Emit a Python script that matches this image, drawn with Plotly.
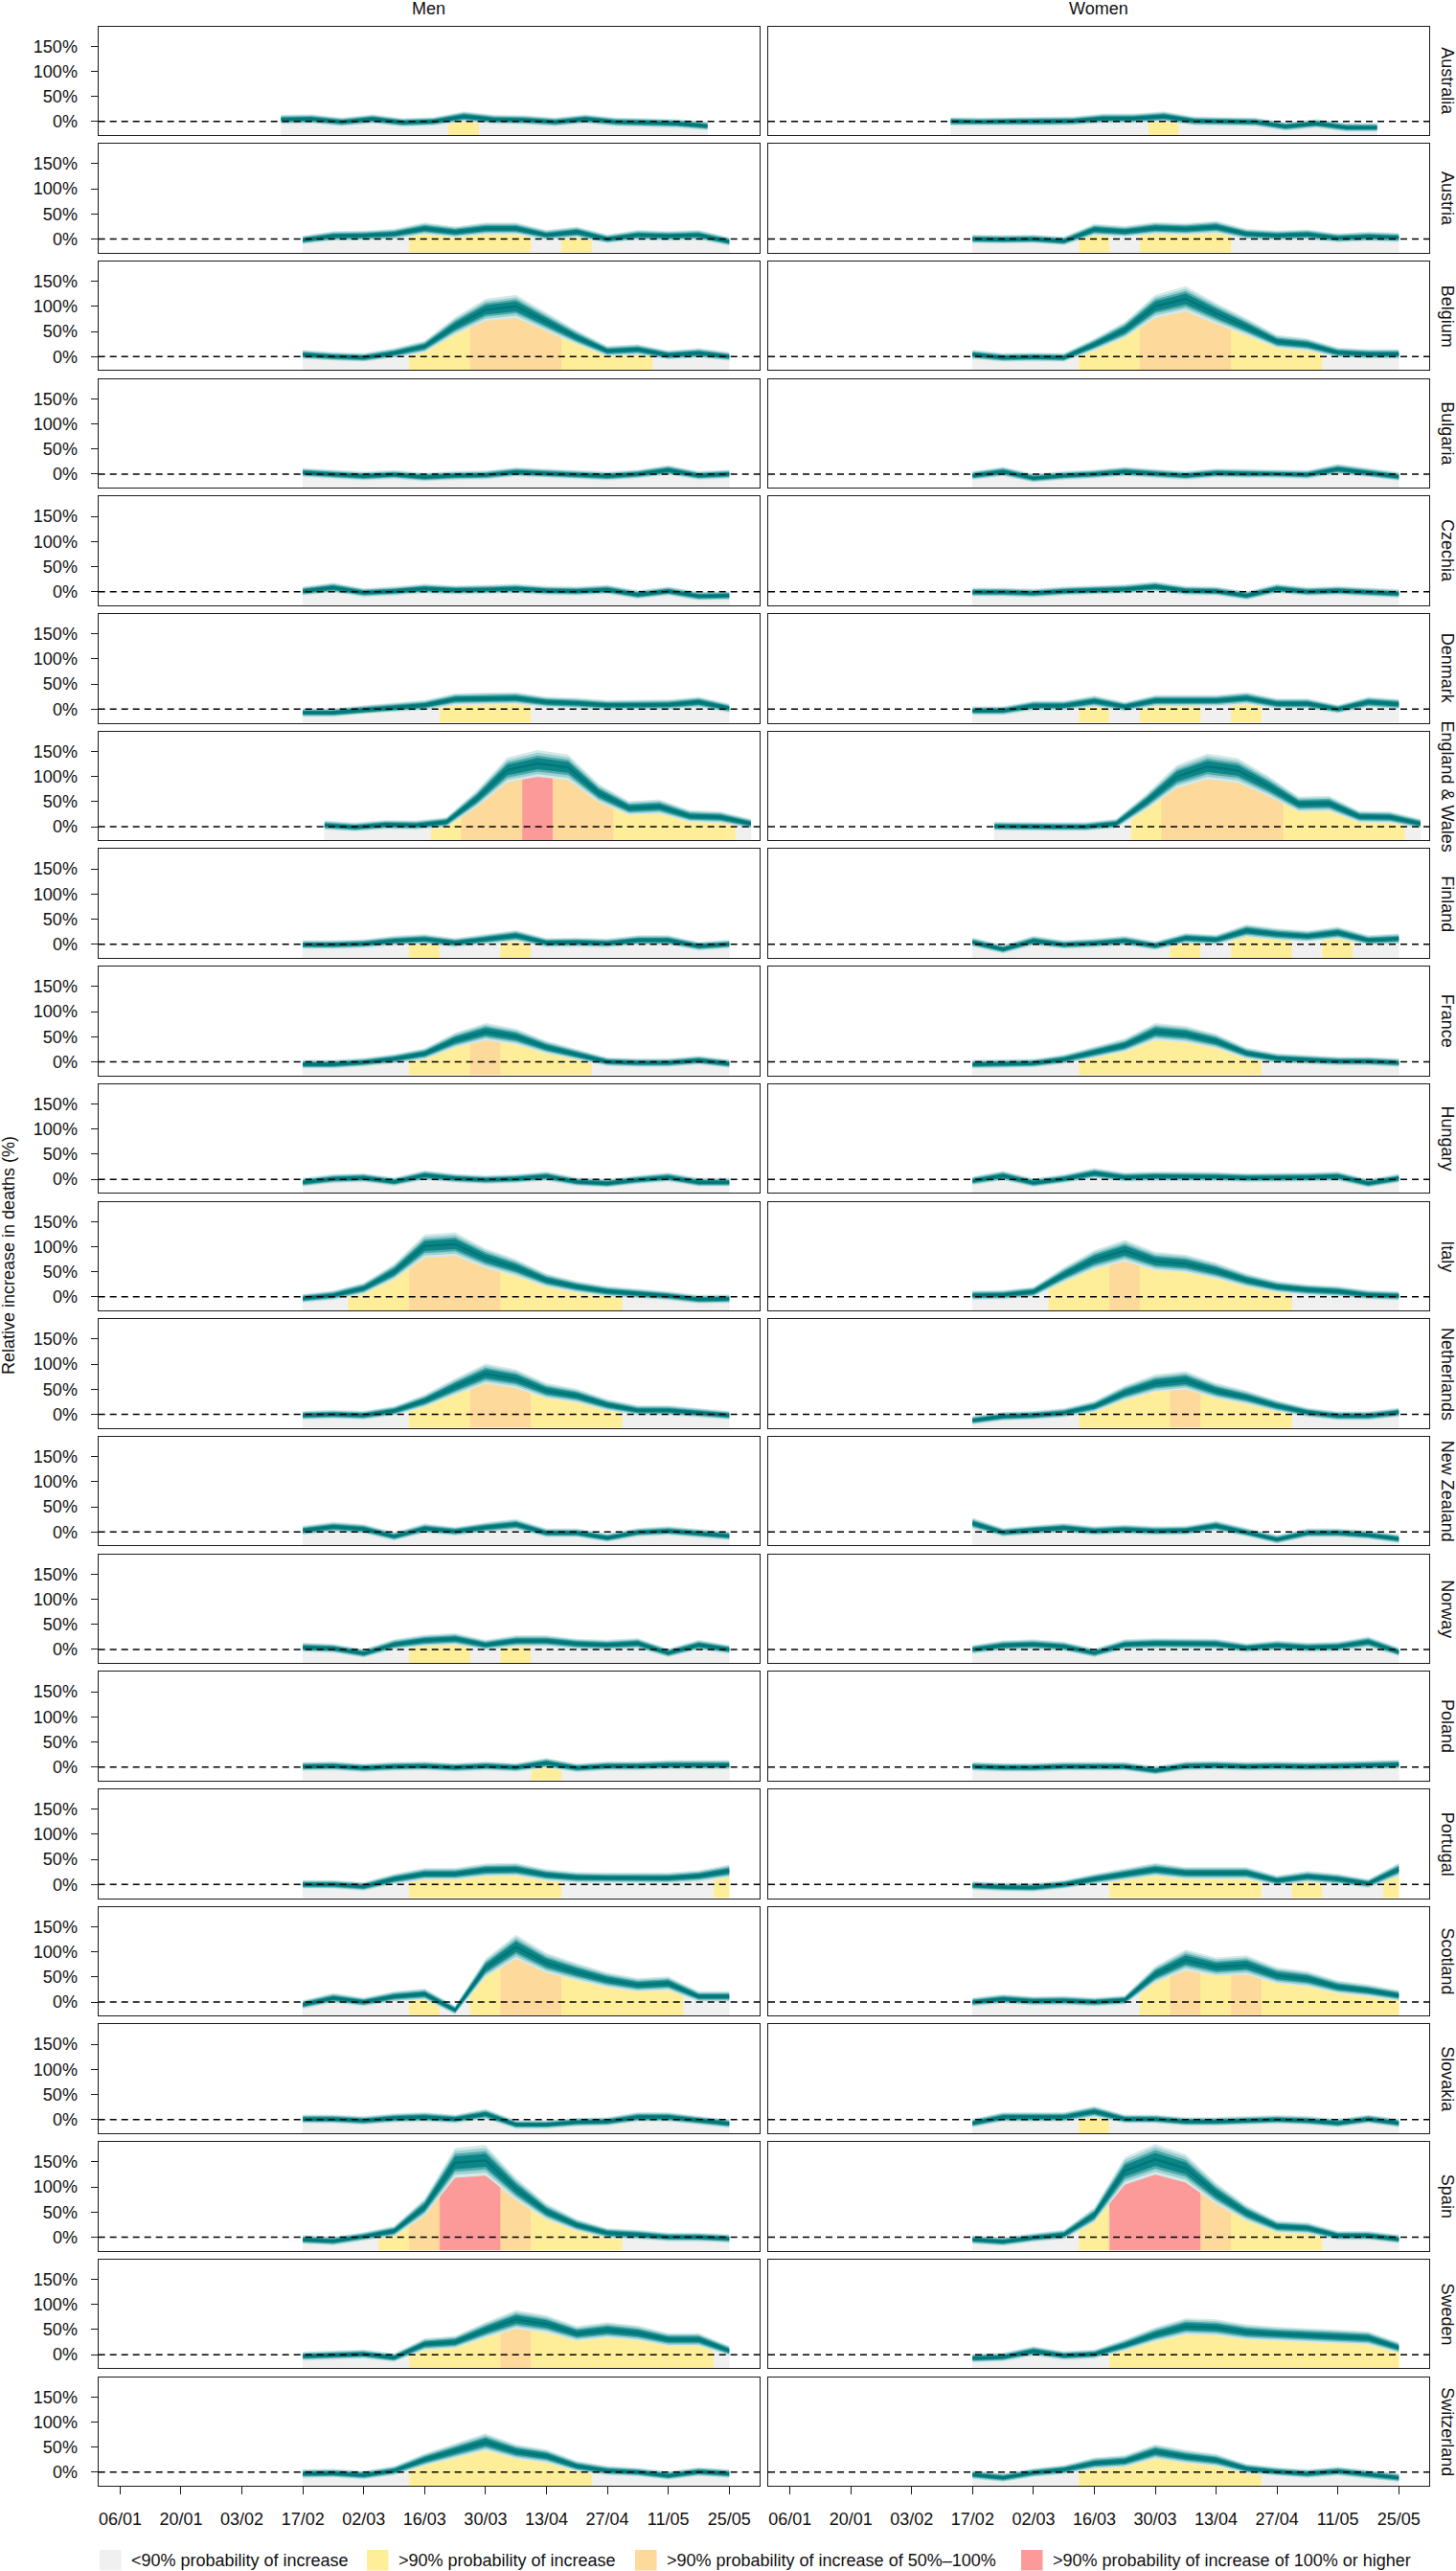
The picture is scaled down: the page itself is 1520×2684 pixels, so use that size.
import plotly.graph_objects as go
import pandas as pd

# ---------------- data ----------------
COUNTRIES = ["Australia", "Austria", "Belgium", "Bulgaria", "Czechia", "Denmark",
             "England & Wales", "Finland", "France", "Hungary", "Italy", "Netherlands",
             "New Zealand", "Norway", "Poland", "Portugal", "Scotland", "Slovakia",
             "Spain", "Sweden", "Switzerland"]

# first week (date of first weekly estimate); 15 weekly points per series
WEEK_START = {"Australia": "2020-02-12", "England & Wales": "2020-02-22"}
DEFAULT_START = "2020-02-17"
N_WEEKS = 15

# relative increase in deaths (%), posterior median, weekly
MEN = {
    "Australia":       [4, 5, -1, 5, -2, 0, 10, 4, 3, -1, 5, -1, -2, -4, -9],
    "Austria":         [-2, 6, 7, 10, 21, 14, 21, 21, 8, 14, 0, 8, 6, 8, -5],
    "Belgium":         [4, 0, -2, 7, 20, 61, 93, 100, 69, 38, 11, 14, 3, 7, 0],
    "Bulgaria":        [3, -1, -4, -1, -6, -3, -2, 4, 1, -1, -4, 0, 8, -3, 0],
    "Czechia":         [1, 8, -2, 1, 6, 3, 4, 6, 2, 1, 4, -6, 1, -9, -8],
    "Denmark":         [-7, -7, -1, 3, 8, 20, 21, 22, 14, 12, 8, 9, 9, 14, 2],
    "England & Wales": [3, -1, 4, 3, 9, 56, 113, 126, 118, 67, 37, 40, 21, 19, 6],
    "Finland":         [-1, -1, 1, 7, 10, 3, 10, 17, 3, 4, 2, 8, 8, -4, 0],
    "France":          [-5, -5, -1, 6, 16, 43, 60, 50, 29, 14, 0, -2, -2, 3, -4],
    "Hungary":         [-6, 1, 3, -5, 8, 2, -1, 1, 6, -5, -8, -1, 4, -6, -6],
    "Italy":           [-3, 3, 17, 50, 101, 105, 77, 58, 33, 20, 11, 7, 2, -5, -4],
    "Netherlands":     [-2, 0, -2, 7, 27, 55, 81, 71, 47, 37, 19, 8, 8, 3, -2],
    "New Zealand":     [3, 10, 6, -9, 7, 1, 9, 15, -2, -2, -12, -1, 2, -3, -8],
    "Norway":          [4, 2, -8, 10, 18, 21, 9, 17, 17, 11, 9, 12, -7, 9, 0],
    "Poland":          [1, 2, -2, 1, 2, -1, 2, -1, 8, -2, 2, 2, 4, 4, 4],
    "Portugal":        [0, 0, -4, 11, 21, 21, 29, 30, 19, 14, 13, 13, 13, 17, 27],
    "Scotland":        [-5, 8, 0, 11, 16, -16, 68, 110, 78, 60, 44, 34, 37, 11, 11],
    "Slovakia":        [1, 1, -2, 3, 5, 1, 11, -10, -10, -5, -4, 5, 5, -2, -8],
    "Spain":           [-5, -8, 1, 12, 60, 148, 153, 96, 51, 24, 8, 5, 0, 0, -3],
    "Sweden":          [-3, -1, 1, -6, 21, 25, 49, 70, 61, 42, 49, 43, 30, 30, 8],
    "Switzerland":     [-3, -2, -6, 3, 25, 43, 60, 41, 32, 12, 3, 0, -7, 1, -3],
}
WOMEN = {
    "Australia":       [0, -1, 0, 0, 1, 6, 6, 10, 1, 0, -1, -10, -4, -12, -12],
    "Austria":         [0, -1, 0, -4, 19, 15, 22, 20, 24, 10, 7, 9, 2, 5, 3],
    "Belgium":         [4, -2, -1, -2, 24, 53, 100, 115, 86, 59, 30, 24, 8, 5, 5],
    "Bulgaria":        [-3, 5, -8, -3, 0, 5, 1, -3, 2, 1, 1, -1, 10, 3, -5],
    "Czechia":         [-1, -1, -3, 1, 3, 5, 10, 2, 1, -8, 6, 0, 2, -1, -4],
    "Denmark":         [-3, -3, 7, 7, 16, 5, 17, 17, 17, 22, 11, 11, 0, 14, 10],
    "England & Wales": [1, 0, 0, 0, 6, 50, 100, 120, 112, 81, 45, 46, 20, 19, 6],
    "Finland":         [4, -10, 7, -1, 2, 7, -3, 12, 9, 27, 20, 16, 23, 8, 11],
    "France":          [-5, -4, -3, 5, 19, 33, 60, 55, 41, 17, 7, 4, 1, 1, -2],
    "Hungary":         [-3, 7, -7, 1, 12, 4, 6, 6, 5, 3, 3, 4, 6, -8, 2],
    "Italy":           [3, 4, 10, 44, 74, 92, 71, 66, 52, 33, 20, 14, 11, 4, 2],
    "Netherlands":     [-12, -4, -2, 3, 16, 43, 62, 68, 47, 34, 17, 4, -3, -3, 4],
    "New Zealand":     [17, -1, 4, 8, 2, 5, 2, 3, 12, -1, -15, -2, -2, -6, -14],
    "Norway":          [0, 8, 10, 6, -7, 10, 12, 11, 11, 3, 8, 4, 6, 15, -5],
    "Poland":          [1, -1, -1, 1, 1, 1, -7, 2, 3, 1, 2, 1, 2, 3, 5],
    "Portugal":        [-2, -5, -6, 0, 11, 21, 30, 23, 23, 23, 8, 16, 11, 2, 30],
    "Scotland":        [0, 6, 2, 3, 0, 4, 55, 84, 70, 74, 53, 46, 30, 23, 13],
    "Slovakia":        [-7, 5, 5, 5, 16, 1, 1, -4, -4, -2, 0, -2, -7, 1, -7],
    "Spain":           [-5, -9, -1, 5, 44, 132, 155, 137, 87, 48, 21, 18, 3, 3, -4],
    "Sweden":          [-7, -5, 7, -2, 1, 19, 40, 56, 54, 45, 41, 39, 36, 33, 14],
    "Switzerland":     [-5, -11, -1, 5, 18, 22, 41, 31, 24, 7, 1, -3, 2, -4, -11],
}

# probability class per week: 0 <90% increase, 1 >90% increase,
# 2 >90% increase of 50-100%, 3 >90% increase of 100% or higher
MEN_CLASS = {
    "Australia": "000000100000000", "Austria": "000011110100000",
    "Belgium": "000011222111000", "Bulgaria": "000000000000000",
    "Czechia": "000000000000000", "Denmark": "000001110000000",
    "England & Wales": "000012232211110", "Finland": "000010010000000",
    "France": "000011211100000", "Hungary": "000000000000000",
    "Italy": "001122211110000", "Netherlands": "000011221110000",
    "New Zealand": "000000000000000", "Norway": "000011010000000",
    "Poland": "000000001000000", "Portugal": "000011111000001",
    "Scotland": "000010122111100", "Slovakia": "000000000000000",
    "Spain": "000123321110000", "Sweden": "000011121111110",
    "Switzerland": "000011111100000",
}
WOMEN_CLASS = {
    "Australia": "000000010000000", "Austria": "000010111000000",
    "Belgium": "000011222111000", "Bulgaria": "000000000000000",
    "Czechia": "000000000000000", "Denmark": "000010110100000",
    "England & Wales": "000001222211110", "Finland": "000000010110100",
    "France": "000011111100000", "Hungary": "000000000000000",
    "Italy": "000112111110000", "Netherlands": "000011121110000",
    "New Zealand": "000000000000000", "Norway": "000000000000000",
    "Poland": "000000000000000", "Portugal": "000001111101001",
    "Scotland": "000000121211111", "Slovakia": "000010000000000",
    "Spain": "000013332111000", "Sweden": "000001111111111",
    "Switzerland": "000011111100000",
}

X_TICKS = ["2020-01-06", "2020-01-20", "2020-02-03", "2020-02-17", "2020-03-02", "2020-03-16",
           "2020-03-30", "2020-04-13", "2020-04-27", "2020-05-11", "2020-05-25"]
X_TICK_LABELS = ["06/01", "20/01", "03/02", "17/02", "02/03", "16/03",
                 "30/03", "13/04", "27/04", "11/05", "25/05"]
Y_TICKS = [0, 50, 100, 150]
Y_TICK_LABELS = ["0%", "50%", "100%", "150%"]
COLUMN_TITLES = ["Men", "Women"]
LEGEND_LABELS = ["<90% probability of increase", ">90% probability of increase",
                 ">90% probability of increase of 50%\u2013100%",
                 ">90% probability of increase of 100% or higher"]

# ---------------- style ----------------
CLASS_COLORS = {"0": "#F0F0F0", "1": "#FFEE99", "2": "#FDD99B", "3": "#FC9A9A"}
RIBBON = [(1.00, "#d3eaea"), (0.80, "#9fd0d1"), (0.60, "#4fa9aa"), (0.42, "#0b8587")]
CORE_COLOR = "#007577"
BAND_BASE, BAND_GROWTH = 9.0, 0.14   # visual width of the uncertainty band
FONT = "Liberation Sans, Arial, Helvetica, sans-serif"
W, H = 1520, 2684
COL_X = [(102.7, 793.0), (802.0, 1492.0)]
TOP0, PITCH, PH = 27.5, 122.7, 113.5
Y_RANGE = [-27, 189.6]
X_RANGE = ["2020-01-01", "2020-06-01"]

fig = go.Figure()
shapes, annotations = [], []
half = pd.Timedelta(days=3.5)


def add_panel(dates, vals, cls, xa, ya):
    n = len(vals)
    bottom = Y_RANGE[0]
    # coloured probability areas (runs of equal class)
    i = 0
    while i < n:
        j = i
        while j + 1 < n and cls[j + 1] == cls[i]:
            j += 1
        if i == 0:
            lx, ly = dates[0], vals[0]
        else:
            lx, ly = dates[i] - half, (vals[i - 1] + vals[i]) / 2
        if j == n - 1:
            rx, ry = dates[-1], vals[-1]
        else:
            rx, ry = dates[j] + half, (vals[j] + vals[j + 1]) / 2
        xs = [lx, lx] + list(dates[i:j + 1]) + [rx, rx]
        ys = [bottom, ly] + list(vals[i:j + 1]) + [ry, bottom]
        col = CLASS_COLORS[cls[i]]
        fig.add_trace(go.Scatter(x=xs, y=ys, mode="lines", fill="toself", fillcolor=col,
                                 line=dict(width=0.6, color=col), hoverinfo="skip",
                                 showlegend=False, xaxis=xa, yaxis=ya))
        i = j + 1
    # uncertainty ribbon
    hw = [BAND_BASE + BAND_GROWTH * max(v, 0) for v in vals]
    for f, col in RIBBON:
        up = [v + f * h for v, h in zip(vals, hw)]
        lo = [v - f * h for v, h in zip(vals, hw)]
        fig.add_trace(go.Scatter(x=list(dates) + list(dates[::-1]), y=up + lo[::-1],
                                 mode="lines", fill="toself", fillcolor=col,
                                 line=dict(width=0, color=col), hoverinfo="skip",
                                 showlegend=False, xaxis=xa, yaxis=ya))
    fig.add_trace(go.Scatter(x=dates, y=vals, mode="lines",
                             line=dict(width=2.2, color=CORE_COLOR), hoverinfo="skip",
                             showlegend=False, xaxis=xa, yaxis=ya))


layout = {}
n_rows = len(COUNTRIES)
for r, country in enumerate(COUNTRIES):
    start = pd.Timestamp(WEEK_START.get(country, DEFAULT_START))
    dates = [start + pd.Timedelta(days=7 * k) for k in range(N_WEEKS)]
    top = TOP0 + r * PITCH
    y0 = 1 - (top + PH) / H
    y1 = 1 - top / H
    for c, (series, classes) in enumerate([(MEN, MEN_CLASS), (WOMEN, WOMEN_CLASS)]):
        idx = r * 2 + c + 1
        xa = "x" if idx == 1 else f"x{idx}"
        ya = "y" if idx == 1 else f"y{idx}"
        xk = "xaxis" if idx == 1 else f"xaxis{idx}"
        yk = "yaxis" if idx == 1 else f"yaxis{idx}"
        add_panel(dates, series[country], classes[country], xa, ya)
        bottom_row = r == n_rows - 1
        layout[xk] = dict(domain=[COL_X[c][0] / W, COL_X[c][1] / W], anchor=ya, type="date",
                          range=X_RANGE, showgrid=False, zeroline=False,
                          showline=True, mirror=True, linecolor="#1a1a1a", linewidth=1.4,
                          tickmode="array", tickvals=X_TICKS, ticktext=X_TICK_LABELS,
                          ticks="outside" if bottom_row else "", ticklen=8, tickwidth=1.2,
                          tickcolor="#1a1a1a", showticklabels=bottom_row,
                          ticklabelstandoff=10,
                          tickfont=dict(family=FONT, size=18, color="#111"))
        layout[yk] = dict(domain=[y0, y1], anchor=xa, range=Y_RANGE, showgrid=False,
                          zeroline=False, showline=True, mirror=True, linecolor="#1a1a1a",
                          linewidth=1.4, tickmode="array", tickvals=Y_TICKS,
                          ticktext=Y_TICK_LABELS, ticks="outside" if c == 0 else "",
                          ticklen=7, tickwidth=1.2, tickcolor="#1a1a1a",
                          showticklabels=(c == 0), ticklabelstandoff=10,
                          tickfont=dict(family=FONT, size=18, color="#111"))
        shapes.append(dict(type="line", xref=f"{xa} domain", yref=ya, x0=0, x1=1, y0=0, y1=0,
                           line=dict(color="black", width=1.5, dash="7px,5px"), layer="above"))
    annotations.append(dict(text=country, x=1511 / W, y=1 - (top + PH / 2) / H, xref="paper",
                            yref="paper", showarrow=False, textangle=90,
                            xanchor="center", yanchor="middle",
                            font=dict(family=FONT, size=18, color="#111")))

for c, title in enumerate(COLUMN_TITLES):
    annotations.append(dict(text=title, x=(COL_X[c][0] + COL_X[c][1]) / 2 / W, y=1 - 9 / H,
                            xref="paper", yref="paper", showarrow=False, xanchor="center",
                            yanchor="middle", font=dict(family=FONT, size=18, color="#111")))

annotations.append(dict(text="Relative increase in deaths (%)", x=9 / W, y=1 - 1311 / H,
                        xref="paper", yref="paper", showarrow=False, textangle=-90,
                        xanchor="center", yanchor="middle",
                        font=dict(family=FONT, size=18, color="#111")))

# legend (bottom)
LEG_BOX_X = [104, 383, 663, 1066]
LEG_Y0, LEG_Y1 = 2662, 2683.5
for k, (bx, lab) in enumerate(zip(LEG_BOX_X, LEGEND_LABELS)):
    col = CLASS_COLORS[str(k)]
    shapes.append(dict(type="rect", xref="paper", yref="paper", x0=bx / W, x1=(bx + 22.5) / W,
                       y0=1 - LEG_Y1 / H, y1=1 - LEG_Y0 / H, fillcolor=col,
                       line=dict(width=0)))
    annotations.append(dict(text=lab, x=(bx + 31) / W, y=1 - (LEG_Y0 + LEG_Y1) / 2 / H,
                            xref="paper", yref="paper", showarrow=False, xanchor="left",
                            yanchor="middle", font=dict(family=FONT, size=18, color="#111")))

fig.update_layout(width=W, height=H, margin=dict(l=0, r=0, t=0, b=0), autosize=False,
                  paper_bgcolor="white", plot_bgcolor="white", showlegend=False,
                  shapes=shapes, annotations=annotations, **layout)

# remove the browser's default page margin so the figure sits at (0, 0)
fig.write_html("out.html", config={"displayModeBar": False},
               post_script="document.body.style.margin='0px';document.body.style.padding='0px';"
                           "document.documentElement.style.overflow='hidden';")
